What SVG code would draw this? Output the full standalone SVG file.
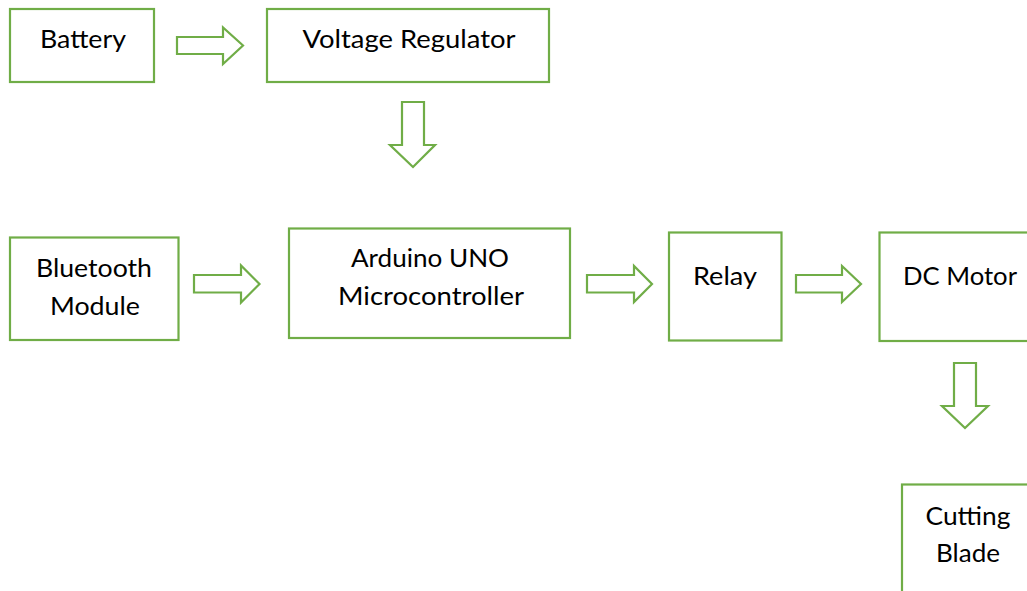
<svg xmlns="http://www.w3.org/2000/svg" width="1027" height="591" viewBox="0 0 1027 591">
<style>
.box{fill:#ffffff;stroke:#70AD47;stroke-width:2.2}
.arr{fill:#ffffff;stroke:#70AD47;stroke-width:2.2;stroke-linejoin:miter}
.t{font-family:Lato,"Open Sans","Liberation Sans",sans-serif;font-size:25px;fill:#000000;text-anchor:middle}
</style>
<rect width="1027" height="591" fill="#ffffff"/>
<g id="battery">
<rect class="box" x="10" y="9" width="144" height="73"/>
<text class="t" x="83" y="48" textLength="86" lengthAdjust="spacingAndGlyphs">Battery</text>
</g>
<g id="voltage-regulator">
<rect class="box" x="267" y="9" width="282" height="73"/>
<text class="t" x="409" y="48" textLength="213" lengthAdjust="spacingAndGlyphs">Voltage Regulator</text>
</g>
<g id="bluetooth-module">
<rect class="box" x="10" y="237.5" width="168.5" height="102.5"/>
<text class="t" x="94" y="277" textLength="116" lengthAdjust="spacingAndGlyphs">Bluetooth</text>
<text class="t" x="95" y="315" textLength="90" lengthAdjust="spacingAndGlyphs">Module</text>
</g>
<g id="arduino">
<rect class="box" x="289" y="228.5" width="281" height="109.5"/>
<text class="t" x="430" y="267" textLength="158" lengthAdjust="spacingAndGlyphs">Arduino UNO</text>
<text class="t" x="431" y="305" textLength="186" lengthAdjust="spacingAndGlyphs">Microcontroller</text>
</g>
<g id="relay">
<rect class="box" x="669" y="232.5" width="112.5" height="108"/>
<text class="t" x="725" y="285" textLength="64" lengthAdjust="spacingAndGlyphs">Relay</text>
</g>
<g id="dc-motor">
<rect class="box" x="879.5" y="232.5" width="160" height="108.5"/>
<text class="t" x="960" y="285" textLength="114" lengthAdjust="spacingAndGlyphs">DC Motor</text>
</g>
<g id="cutting-blade">
<rect class="box" x="902" y="484.5" width="140" height="120"/>
<text class="t" x="968" y="525" textLength="85" lengthAdjust="spacingAndGlyphs">Cutting</text>
<text class="t" x="968" y="562" textLength="64" lengthAdjust="spacingAndGlyphs">Blade</text>
</g>
<g id="connectors">
<polygon class="arr" points="177,37 223,37 223,27.5 243,45.5 223,64 223,54 177,54"/>
<polygon class="arr" points="402,102 424,102 424,145 435,145 413,167 390,145 402,145"/>
<polygon class="arr" points="194,275 241,275 241,265.5 259.5,284 241,302.5 241,292.5 194,292.5"/>
<polygon class="arr" points="587,275 634,275 634,266 652,284 634,302 634,292.5 587,292.5"/>
<polygon class="arr" points="796,275 842,275 842,266 861,284 842,302 842,292.5 796,292.5"/>
<polygon class="arr" points="954,363 976,363 976,406 988,406 965,428 942,406 954,406"/>
</g>
</svg>
